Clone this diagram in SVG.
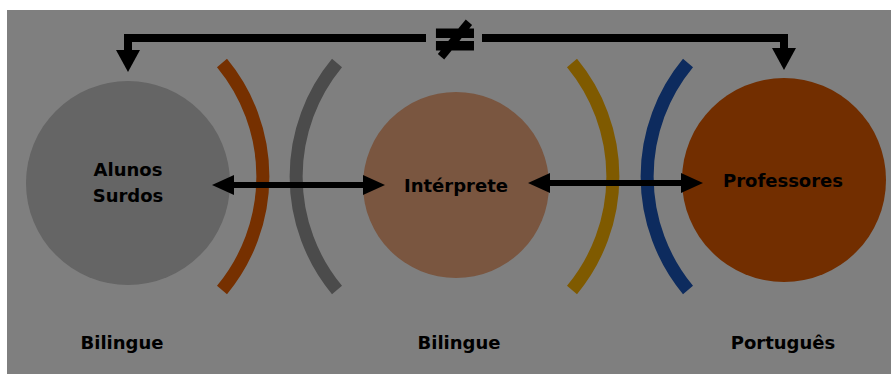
<svg xmlns="http://www.w3.org/2000/svg" width="891" height="374" viewBox="0 0 891 374">
<defs>
<style>
.lbl{font-family:"DejaVu Sans","Liberation Sans",sans-serif;font-weight:bold;font-size:18px;fill:#000;text-anchor:middle}
.arc{fill:none;stroke-width:13;stroke-linecap:butt}
.conn{fill:none;stroke:#000}
</style>
<marker id="ah" viewBox="0 0 22 20" refX="0" refY="10" markerWidth="22" markerHeight="20" markerUnits="userSpaceOnUse" orient="auto-start-reverse"><path d="M0,0 L22,10 L0,20 z" fill="#000"/></marker>
<marker id="ahv" viewBox="0 0 22 24" refX="0" refY="12" markerWidth="22" markerHeight="24" markerUnits="userSpaceOnUse" orient="auto"><path d="M0,0 L22,12 L0,24 z" fill="#000"/></marker>
</defs>
<rect x="0" y="0" width="891" height="374" fill="#ffffff"/>
<rect x="7" y="10" width="884" height="364" fill="#7f7f7f"/>

<g id="arcs">
<path class="arc" d="M222,63 A178,178 0 0 1 222,290" stroke="#763000"/>
<path class="arc" d="M337,63 A178,178 0 0 0 337,290" stroke="#4b4b4b"/>
<path class="arc" d="M572,63 A178,178 0 0 1 572,290" stroke="#7f5a00"/>
<path class="arc" d="M688,63 A178,178 0 0 0 688,290" stroke="#0d2b5e"/>
</g>

<g id="alunos">
<circle cx="128" cy="183" r="102" fill="#656565"/>
<text class="lbl" x="128" y="176">Alunos</text>
<text class="lbl" x="128" y="202">Surdos</text>
</g>
<g id="interprete">
<circle cx="456" cy="185" r="93" fill="#7a5640"/>
<text class="lbl" x="456" y="192">Intérprete</text>
</g>
<g id="professores">
<circle cx="784" cy="180" r="102" fill="#722e00"/>
<text class="lbl" x="783" y="187">Professores</text>
</g>

<g id="connectors">
<path class="conn" stroke-width="6" d="M234,185 H363" marker-start="url(#ah)" marker-end="url(#ah)"/>
<path class="conn" stroke-width="6" d="M550,183 H681" marker-start="url(#ah)" marker-end="url(#ah)"/>
<path class="conn" stroke-width="8" d="M426,38 H128 V50" marker-end="url(#ahv)"/>
<path class="conn" stroke-width="8" d="M482,38 H784 V48" marker-end="url(#ahv)"/>
<text x="455" y="57" font-family="DejaVu Sans, sans-serif" font-weight="bold" font-size="56" text-anchor="middle" fill="#000" stroke="#000" stroke-width="3">≠</text>
</g>

<g id="labels">
<text class="lbl" x="122" y="349">Bilingue</text>
<text class="lbl" x="459" y="349">Bilingue</text>
<text class="lbl" x="783" y="349">Português</text>
</g>
</svg>
